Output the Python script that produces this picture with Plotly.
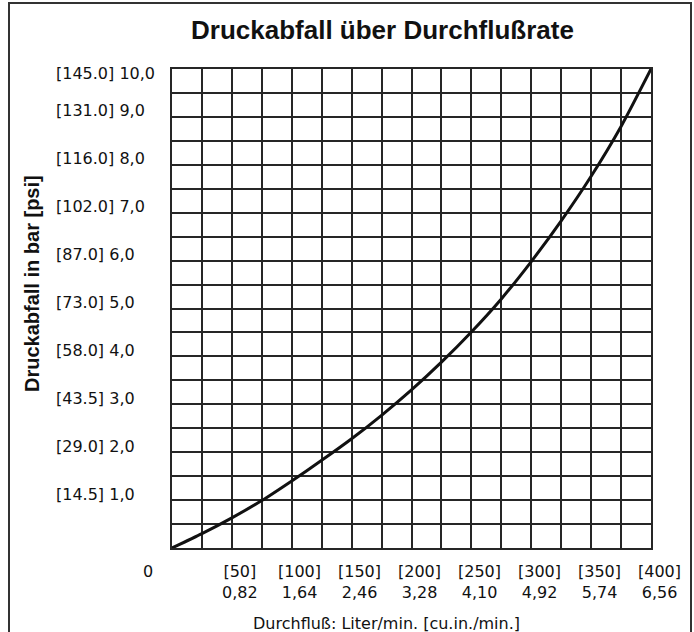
import plotly.graph_objects as go

# Flow rate (l/min) and pressure drop (bar) along the characteristic curve
flow_lpm = [0, 0.41, 0.82, 1.23, 1.64, 2.05, 2.46, 2.87, 3.28, 3.69,
            4.10, 4.51, 4.92, 5.33, 5.74, 6.15, 6.56]
drop_bar = [0, 0.30, 0.63, 0.99, 1.40, 1.83, 2.28, 2.77, 3.30, 3.88,
            4.51, 5.20, 5.98, 6.83, 7.76, 8.80, 10.0]

# Axis labels: metric value plus imperial value in brackets
x_tick_vals = [0.82, 1.64, 2.46, 3.28, 4.10, 4.92, 5.74, 6.56]
x_tick_metric = ["0,82", "1,64", "2,46", "3,28", "4,10", "4,92", "5,74", "6,56"]
x_tick_imperial = ["50", "100", "150", "200", "250", "300", "350", "400"]

y_tick_vals = [1, 2, 3, 4, 5, 6, 7, 8, 9, 10]
y_tick_metric = ["1,0", "2,0", "3,0", "4,0", "5,0", "6,0", "7,0", "8,0", "9,0", "10,0"]
y_tick_imperial = ["14.5", "29.0", "43.5", "58.0", "73.0", "87.0",
                   "102.0", "116.0", "131.0", "145.0"]

W, H = 694, 632
ML, MR, MT, MB = 172, 43, 69, 84
PW, PH = W - ML - MR, H - MT - MB


def px(x):
    return (x - ML) / PW


def py(y):
    return (H - MB - y) / PH


GRID = "#262626"
TICK_FONT = dict(family="DejaVu Sans", size=16, color="#111")

fig = go.Figure()
fig.add_trace(go.Scatter(
    x=flow_lpm, y=drop_bar, mode="lines",
    line=dict(color="#111", width=3, shape="spline", smoothing=0.6),
    hoverinfo="skip", showlegend=False,
))

axis_common = dict(
    showgrid=True, gridcolor=GRID, gridwidth=1.8,
    showline=True, linecolor=GRID, linewidth=2, mirror=True,
    zeroline=False, showticklabels=False, ticks="", fixedrange=True,
)
fig.update_xaxes(range=[0, 6.56], tick0=0, dtick=0.41, **axis_common)
fig.update_yaxes(range=[0, 10], tick0=0, dtick=0.5, **axis_common)

ann = []
# y-axis labels, left aligned in one column
for v, m, i in zip(y_tick_vals, y_tick_metric, y_tick_imperial):
    ann.append(dict(
        xref="paper", yref="y", x=px(54), y=v, xanchor="left", yanchor="middle",
        yshift=-4 if v == 10 else 6,
        text=f"[{i}] {m}", showarrow=False, font=TICK_FONT,
    ))
# x-axis labels, two lines each
for v, m, i in zip(x_tick_vals, x_tick_metric, x_tick_imperial):
    ann.append(dict(
        xref="x", yref="paper", x=v, y=0, xanchor="center", yanchor="top",
        xshift=8, yshift=-12,
        text=f"[{i}]<br>{m}", showarrow=False, font=TICK_FONT, align="center",
    ))
# shared origin label
ann.append(dict(
    xref="x", yref="paper", x=0, y=0, xanchor="center", yanchor="top",
    xshift=-24, yshift=-12, text="0", showarrow=False, font=TICK_FONT,
))
# axis titles and chart title
ann.append(dict(
    xref="paper", yref="paper", x=px(386), y=py(623), xanchor="center", yanchor="middle",
    text="Durchfluß: Liter/min. [cu.in./min.]", showarrow=False, font=TICK_FONT,
))
ann.append(dict(
    xref="paper", yref="paper", x=px(32), y=py(284), xanchor="center", yanchor="middle",
    text="<b>Druckabfall in bar [psi]</b>", textangle=-90, showarrow=False,
    font=dict(family="Liberation Sans", size=20, color="#111"),
))
ann.append(dict(
    xref="paper", yref="paper", x=px(382), y=py(30), xanchor="center", yanchor="middle",
    text="<b>Druckabfall über Durchflußrate</b>", showarrow=False,
    font=dict(family="Liberation Sans", size=26, color="#111"),
))

fig.update_layout(
    width=W, height=H,
    margin=dict(l=ML, r=MR, t=MT, b=MB, pad=0),
    paper_bgcolor="white", plot_bgcolor="white",
    annotations=ann,
    shapes=[dict(
        type="rect", xref="paper", yref="paper",
        x0=px(9), x1=px(691), y0=py(636), y1=py(3),
        line=dict(color="#333", width=2), layer="below",
    )],
    showlegend=False,
)

fig.write_html("out.html")
